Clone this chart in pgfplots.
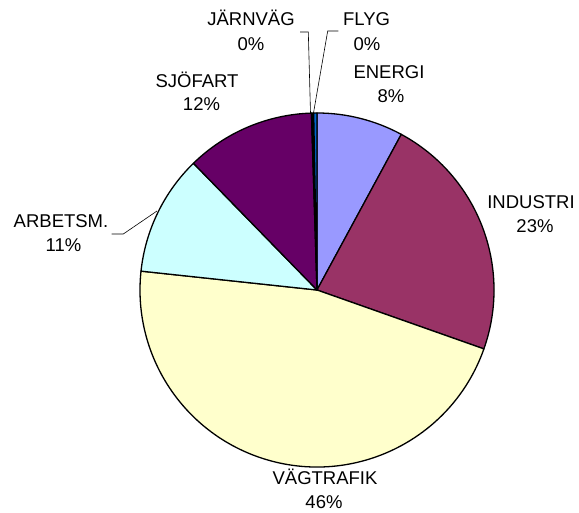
\documentclass[border=0pt]{standalone}
\usepackage{fontspec}
\setmainfont{Liberation Sans}
\usepackage{pgfplots}
\usepackage{pgfplotstable}
\pgfplotsset{compat=1.18}

\definecolor{energi}{HTML}{9999FF}
\definecolor{industri}{HTML}{993366}
\definecolor{vagtrafik}{HTML}{FFFFCC}
\definecolor{arbetsm}{HTML}{CCFFFF}
\definecolor{sjofart}{HTML}{660066}
\definecolor{jarnvag}{HTML}{000000}
\definecolor{flyg}{HTML}{0066CC}

% share of emissions per sector (percent), clockwise from 12 o'clock
\pgfplotstableread{
value color
7.9   energi
22.5  industri
46.3  vagtrafik
11.0  arbetsm
11.8  sjofart
0.2   jarnvag
0.3   flyg
}\piedata

\begin{document}
\begin{tikzpicture}[font=\fontsize{18.5}{22}\selectfont]
\begin{axis}[
    width=579pt, height=512pt, scale only axis,
    xmin=0, xmax=579, ymin=0, ymax=512,
    hide axis, clip=false
]
% keep the page the full chart size
\path (axis cs:0,0) rectangle (axis cs:579,512);

\def\cx{317}\def\cy{222}\def\rad{177}
\def\cum{0}
\pgfplotstablegetrowsof{\piedata}
\pgfmathtruncatemacro\last{\pgfplotsretval-1}
\pgfplotsforeachungrouped \i in {0,...,\last}{
  \pgfplotstablegetelem{\i}{value}\of\piedata \let\val\pgfplotsretval
  \pgfplotstablegetelem{\i}{color}\of\piedata \let\col\pgfplotsretval
  \pgfmathsetmacro\sa{90-3.6*\cum}
  \pgfmathsetmacro\ea{90-3.6*(\cum+\val)}
  \edef\piewedge{\noexpand\filldraw[fill=\col, draw=black, line width=1.3pt, line join=round]
    (axis cs:\cx,\cy) -- ++(\sa:\rad pt) arc[start angle=\sa, end angle=\ea, radius=\rad pt] -- cycle;}
  \piewedge
  \pgfmathsetmacro\cum{\cum+\val}
}

% leader lines
\draw[line width=0.6pt] (axis cs:300,480) -- (axis cs:308.3,480) -- (axis cs:310.5,399);
\draw[line width=0.6pt] (axis cs:338.3,481) -- (axis cs:327.7,481) -- (axis cs:313.5,399);
\draw[line width=0.6pt] (axis cs:111.7,278) -- (axis cs:123.3,278) -- (axis cs:157,301);

% labels
\node[anchor=base] at (axis cs:251,486) {JÄRNVÄG};
\node[anchor=base] at (axis cs:251,461.5) {0\%};
\node[anchor=base] at (axis cs:366.5,486) {FLYG};
\node[anchor=base] at (axis cs:367,461.5) {0\%};
\node[anchor=base] at (axis cs:389,433) {ENERGI};
\node[anchor=base] at (axis cs:391,409) {8\%};
\node[anchor=base] at (axis cs:197,424) {SJÖFART};
\node[anchor=base] at (axis cs:201.5,401) {12\%};
\node[anchor=base] at (axis cs:531,303) {INDUSTRI};
\node[anchor=base] at (axis cs:535,279) {23\%};
\node[anchor=base] at (axis cs:61,284) {ARBETSM.};
\node[anchor=base] at (axis cs:63.5,260) {11\%};
\node[anchor=base] at (axis cs:325,27) {VÄGTRAFIK};
\node[anchor=base] at (axis cs:324,3) {46\%};
\end{axis}
\end{tikzpicture}
\end{document}
